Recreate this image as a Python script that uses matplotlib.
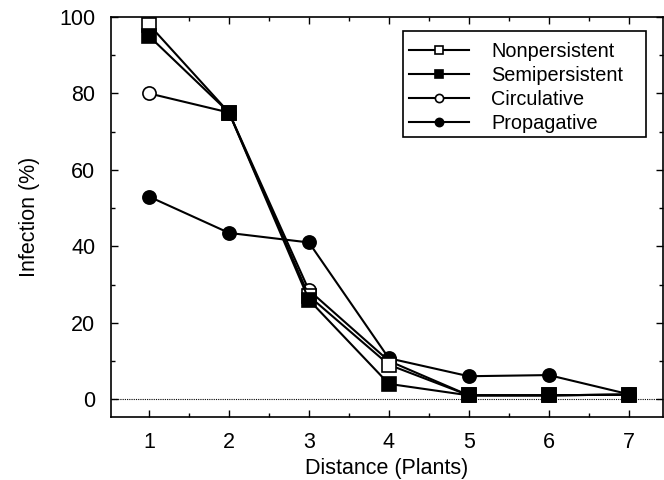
import matplotlib
matplotlib.use("Agg")
import matplotlib.pyplot as plt
from matplotlib.ticker import MultipleLocator
from matplotlib.patches import Rectangle

plt.rcParams['font.family'] = ['Liberation Sans', 'DejaVu Sans']

distance = [1, 2, 3, 4, 5, 6, 7]
nonpersistent = [98, 75, 27, 9, 1, 1, 1.2]
semipersistent = [95, 75, 26, 4, 1, 1, 1.2]
circulative = [80, 75, 28.5, 10, 1, 1, 1.2]
propagative = [53, 43.5, 41, 10.7, 6, 6.3, 1.3]

fig = plt.figure(figsize=(6.64, 4.8), dpi=100)
ax = fig.add_axes([0.1667, 0.131, 0.8318, 0.8336])

ax.axhline(0, color='black', linestyle=(0, (1, 1)), linewidth=0.8, zorder=1)

kw = dict(color='black', linewidth=1.5, markersize=9.5, markeredgewidth=1.2)
ax.plot(distance, nonpersistent, marker='s', markerfacecolor='white', label='Nonpersistent', zorder=4, **kw)
ax.plot(distance, semipersistent, marker='s', markerfacecolor='black', label='Semipersistent', zorder=5, **kw)
ax.plot(distance, circulative, marker='o', markerfacecolor='white', label='Circulative', zorder=3, **kw)
ax.plot(distance, propagative, marker='o', markerfacecolor='black', label='Propagative', zorder=3.5, **kw)

ax.set_xlim(0.52, 7.43)
ax.set_ylim(-4.7, 100)
ax.set_xticks(distance)
ax.set_yticks([0, 20, 40, 60, 80, 100])
ax.xaxis.set_minor_locator(MultipleLocator(0.5))
ax.yaxis.set_minor_locator(MultipleLocator(10))
ax.tick_params(which='both', direction='in', top=True, right=True, labelsize=15.5, width=1)
ax.tick_params(which='major', length=5, pad=11)
ax.tick_params(which='minor', length=3)
for s in ax.spines.values():
    s.set_linewidth(1.2)

ax.set_xlabel('Distance (Plants)', fontsize=15.5, labelpad=3)
ax.set_ylabel('Infection (%)', fontsize=15.5, labelpad=14)

leg = ax.legend(loc='upper left', bbox_to_anchor=(409 / 664, 1 - 42 / 480),
                bbox_transform=fig.transFigure, fontsize=14.3,
                frameon=False, handlelength=3.0,
                markerscale=0.62, labelspacing=0.25, borderpad=0, handletextpad=1.15,
                borderaxespad=0)
leg.set_zorder(10)

frame = Rectangle((403 / 664, 1 - 137 / 480), 243 / 664, 106 / 480,
                  transform=fig.transFigure, facecolor='white', edgecolor='black',
                  linewidth=1.2, zorder=9)
ax.add_patch(frame)
frame.set_clip_on(False)

fig.savefig('out.png', dpi=100)
